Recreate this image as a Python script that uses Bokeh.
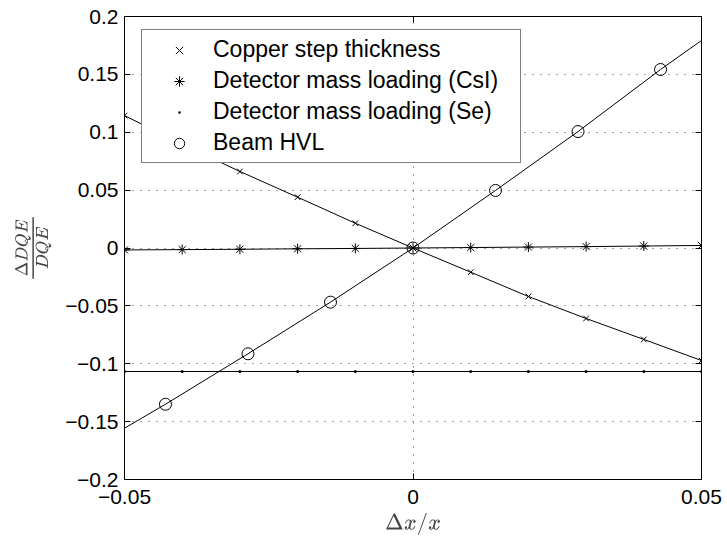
from bokeh.plotting import figure
from bokeh.models import Range1d, FixedTicker, LinearAxis, Legend, LegendItem
from bokeh.embed import file_html
from bokeh.resources import INLINE

# ---- data ----
x_pts = [-0.05, -0.04, -0.03, -0.02, -0.01, 0.0, 0.01, 0.02, 0.03, 0.04, 0.05]
copper = [0.1144, 0.0897, 0.0661, 0.0439, 0.0214, 0.0, -0.0209, -0.0419, -0.0609, -0.0790, -0.0972]
csi = [-0.0017, -0.0014, -0.0011, -0.0007, -0.0004, 0.0, 0.0004, 0.0008, 0.0012, 0.0017, 0.0022]
se = [-0.1067, -0.1067, -0.1067, -0.1067, -0.1067, -0.1067, -0.1067, -0.1067, -0.1067, -0.1067, -0.1067]
hvl_x = [-0.0429, -0.0286, -0.0143, 0.0, 0.0143, 0.0286, 0.0429]
hvl = [-0.1350, -0.0914, -0.0468, 0.0, 0.0497, 0.1006, 0.1542]
hvl_fit_x = [-0.05, -0.0429, -0.0286, -0.0143, 0.0, 0.0143, 0.0286, 0.0429, 0.05]
hvl_fit = [-0.1557, -0.1350, -0.0914, -0.0468, 0.0, 0.0497, 0.1006, 0.1542, 0.1793]

labels = ["Copper step thickness", "Detector mass loading (CsI)",
          "Detector mass loading (Se)", "Beam HVL"]

x_ticks = [-0.05, 0.0, 0.05]
x_tick_labels = ["\u22120.05", "0", "0.05"]
y_ticks = [-0.2, -0.15, -0.1, -0.05, 0.0, 0.05, 0.1, 0.15, 0.2]
y_tick_labels = ["\u22120.2", "\u22120.15", "\u22120.1", "\u22120.05", "0",
                 "0.05", "0.1", "0.15", "0.2"]

FONT = "Liberation Sans"

p = figure(width=727, height=539, x_range=Range1d(-0.05, 0.05), y_range=Range1d(-0.2, 0.2),
           output_backend="svg", toolbar_location=None,
           min_border_left=124, min_border_right=26, min_border_top=16, min_border_bottom=60,
           x_axis_location=None, y_axis_location=None)
p.outline_line_color = "black"
p.outline_line_width = 1
p.background_fill_color = "white"

def style_axis(ax, ticks, lbls, show_labels):
    ax.ticker = FixedTicker(ticks=ticks)
    ax.major_label_overrides = {t: l for t, l in zip(ticks, lbls)}
    ax.major_tick_in = 6
    ax.major_tick_out = 0
    ax.minor_tick_in = 0
    ax.minor_tick_out = 0
    ax.axis_line_color = "black"
    ax.major_tick_line_color = "black"
    ax.major_label_text_font = FONT
    ax.major_label_text_color = "black"
    if show_labels:
        ax.major_label_text_font_size = "21px"
    else:
        ax.major_label_text_font_size = "0px"
        ax.major_label_standoff = 0

xb = LinearAxis()
style_axis(xb, x_ticks, x_tick_labels, True)
xb.major_label_standoff = 10
xb.axis_label = r"$$\Delta x/x$$"
xb.axis_label_text_font_size = "19px"
xb.axis_label_standoff = 6
p.add_layout(xb, "below")

yl = LinearAxis()
style_axis(yl, y_ticks, y_tick_labels, True)
yl.major_label_standoff = 6
yl.axis_label = r"$$\tfrac{\Delta DQE}{DQE}$$"
yl.axis_label_text_font_size = "20px"
yl.axis_label_standoff = 11
p.add_layout(yl, "left")

xt = LinearAxis()
style_axis(xt, x_ticks, ["", "", ""], False)
p.add_layout(xt, "above")

yr = LinearAxis()
style_axis(yr, y_ticks, [""] * len(y_ticks), False)
p.add_layout(yr, "right")

p.xgrid.ticker = FixedTicker(ticks=x_ticks)
p.ygrid.ticker = FixedTicker(ticks=y_ticks)
for g in (p.xgrid, p.ygrid):
    g.grid_line_color = "black"
    g.grid_line_alpha = 0.75
    g.grid_line_dash = "1 7"
    g.grid_line_width = 1

# lines
p.line(x_pts, copper, line_color="black", line_width=1)
p.line(x_pts, csi, line_color="black", line_width=1)
p.line(x_pts, se, line_color="black", line_width=1)
p.line(hvl_fit_x, hvl_fit, line_color="black", line_width=1)

# markers
r1 = p.scatter(x_pts, copper, marker="x", size=8, line_color="black", line_width=1)
r2 = p.scatter(x_pts, csi, marker="asterisk", size=10, line_color="black", line_width=1)
r3 = p.scatter(x_pts, se, marker="dot", size=12, line_color="black", fill_color="black")
r4 = p.scatter(hvl_x, hvl, marker="circle", size=12, line_color="black", fill_color=None, line_width=1)

legend = Legend(items=[LegendItem(label=labels[0], renderers=[r1]),
                       LegendItem(label=labels[1], renderers=[r2]),
                       LegendItem(label=labels[2], renderers=[r3]),
                       LegendItem(label=labels[3], renderers=[r4])],
                location=(17, 316))
legend.label_text_font = FONT
legend.label_text_font_size = "23px"
legend.label_text_color = "black"
legend.glyph_width = 66
legend.glyph_height = 26
legend.label_height = 31
legend.label_width = 303
legend.label_standoff = 1
legend.padding = 4
legend.spacing = 0
legend.margin = 0
legend.border_line_color = "black"
legend.border_line_width = 1
legend.background_fill_alpha = 1.0
p.add_layout(legend, "center")

open("out.html", "w").write(file_html(p, INLINE))
